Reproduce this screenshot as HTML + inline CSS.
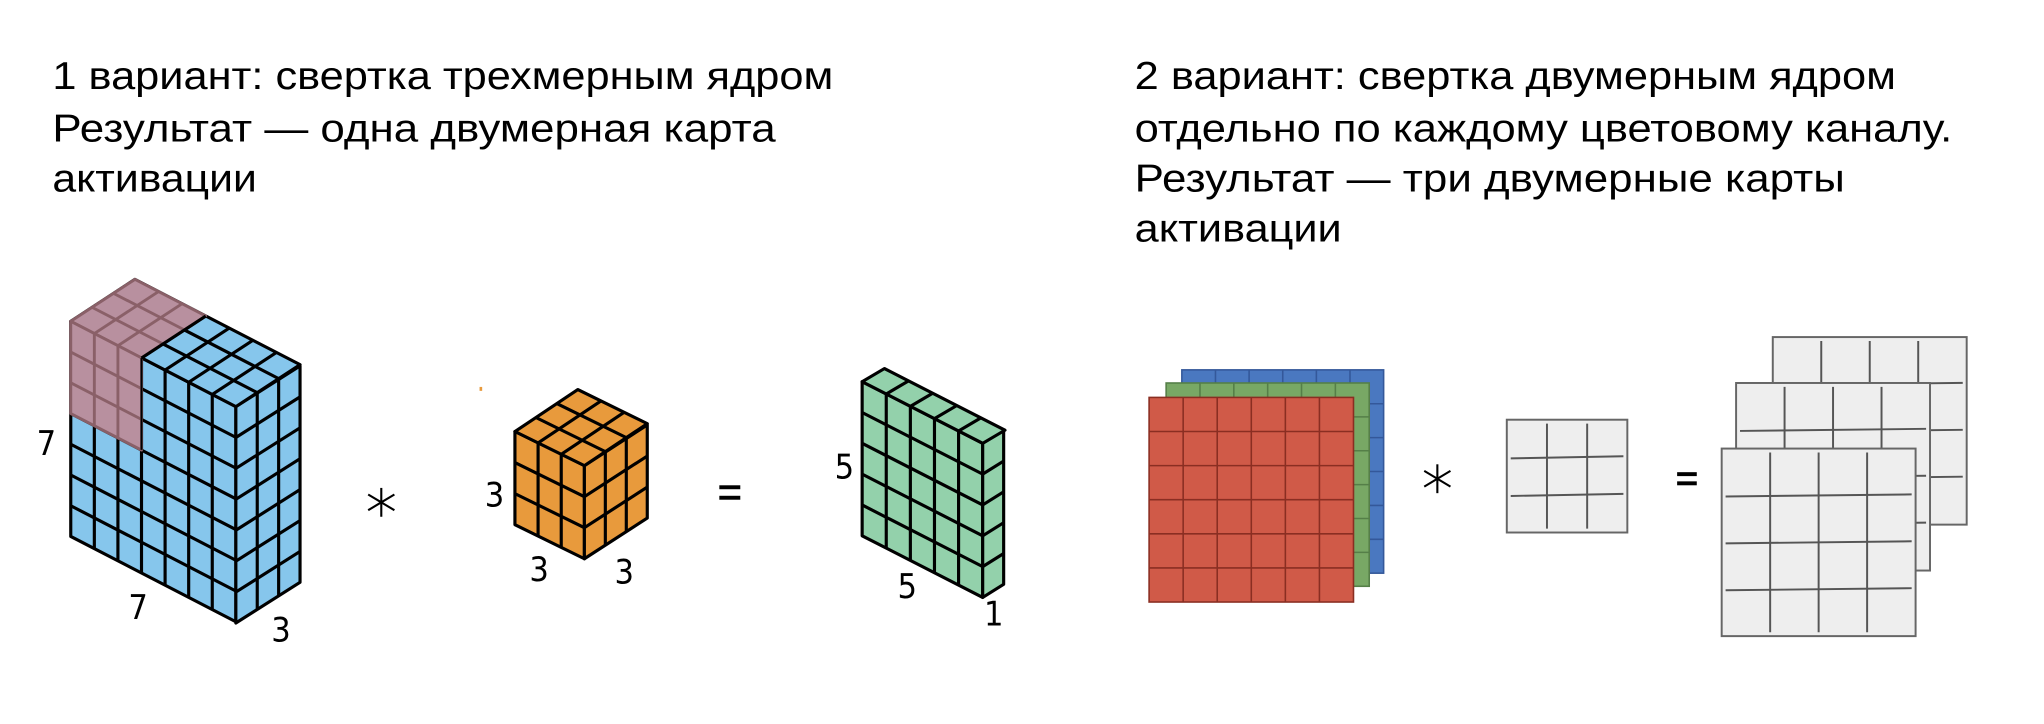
<!DOCTYPE html>
<html><head><meta charset="utf-8"><style>html,body{margin:0;padding:0;background:#fff;}svg{display:block}</style></head>
<body>
<svg id="s" xmlns="http://www.w3.org/2000/svg" width="2044" height="724" viewBox="0 0 1560 552" preserveAspectRatio="none">
<rect width="1560" height="552" fill="#fff"/>
<g font-family="Liberation Sans, Arial, sans-serif" font-size="30" fill="#000">
<text x="40" y="68" textLength="596" lengthAdjust="spacingAndGlyphs">1 вариант: свертка трехмерным ядром</text>
<text x="40" y="108" textLength="552" lengthAdjust="spacingAndGlyphs">Результат  — одна двумерная карта</text>
<text x="40" y="146" textLength="156" lengthAdjust="spacingAndGlyphs">активации</text>
<text x="866" y="68" textLength="581" lengthAdjust="spacingAndGlyphs">2 вариант: свертка двумерным ядром</text>
<text x="866" y="108" textLength="624" lengthAdjust="spacingAndGlyphs">отдельно по каждому цветовому каналу.</text>
<text x="866" y="146" textLength="542" lengthAdjust="spacingAndGlyphs">Результат  — три двумерные карты</text>
<text x="866" y="184" textLength="158" lengthAdjust="spacingAndGlyphs">активации</text>
</g>
<g id="g3d"></g>
<g font-family="DejaVu Sans Condensed, DejaVu Sans, sans-serif" font-size="26" fill="#000">
<text x="28" y="347">7</text>
<text x="98" y="472">7</text>
<text x="207" y="489">3</text>
<text x="370" y="386">3</text>
<text x="404" y="443">3</text>
<text x="469" y="445">3</text>
<text x="637" y="365">5</text>
<text x="685" y="456">5</text>
<text x="751" y="477">1</text>
</g>
<rect x="366" y="295" width="2" height="3" fill="#e89a3c"/>
<g stroke="#000" stroke-width="1.6">
<line x1="291" y1="372" x2="291" y2="394"/><line x1="281" y1="377" x2="301" y2="389"/><line x1="281" y1="389" x2="301" y2="377"/>
<line x1="1097" y1="354" x2="1097" y2="376"/><line x1="1087" y1="359" x2="1107" y2="371"/><line x1="1087" y1="371" x2="1107" y2="359"/>
</g>
<g fill="#000"><rect x="549" y="370" width="16" height="3"/><rect x="549" y="378" width="16" height="3"/>
<rect x="1280" y="360" width="15" height="3"/><rect x="1280" y="367" width="15" height="3"/></g>
<g id="g2d"></g>
</svg>
<script>
var NS="http://www.w3.org/2000/svg";
function el(p,n,a){var e=document.createElementNS(NS,n);for(var k in a)e.setAttribute(k,a[k]);p.appendChild(e);return e;}
var G=document.getElementById('g3d');
function face(o,u,v,i0,i1,j0,j1,fill,stroke,sw){
 function P(i,j){return [o[0]+u[0]*i+v[0]*j,o[1]+u[1]*i+v[1]*j];}
 var a=P(i0,j0),b=P(i1,j0),c=P(i1,j1),d=P(i0,j1);
 el(G,'polygon',{points:[a,b,c,d].map(function(p){return p.join(',')}).join(' '),fill:fill,stroke:stroke,'stroke-width':sw,'stroke-linejoin':'round'});
 for(var i=i0+1;i<i1;i++){var p=P(i,j0),q=P(i,j1);el(G,'line',{x1:p[0],y1:p[1],x2:q[0],y2:q[1],stroke:stroke,'stroke-width':sw});}
 for(var j=j0+1;j<j1;j++){var p=P(i0,j),q=P(i1,j);el(G,'line',{x1:p[0],y1:p[1],x2:q[0],y2:q[1],stroke:stroke,'stroke-width':sw});}
}
var B='#86c6ec',K='#000',PK='#b8909f',PS='#8a6068';
face([54,245],[18,9.29],[0,23.43],0,7,0,7,B,K,2.4);
face([180,310],[16.33,-10.33],[0,23.57],0,3,0,7,B,K,2.4);
face([54,245],[18,9.29],[16.33,-10.67],0,7,0,3,B,K,2.4);
face([54,245],[18,9.29],[16.33,-10.67],0,3,0,3,PK,PS,2.2);
face([54,245],[18,9.29],[0,23.43],0,3,0,3,PK,PS,2.2);
el(G,'line',{x1:108,y1:273,x2:108,y2:343,stroke:'#000','stroke-width':1.5});
el(G,'line',{x1:108,y1:273,x2:157,y2:241,stroke:'#000','stroke-width':2.4});
var O='#e89a3c';
face([393,329],[17.67,8.67],[0,23.67],0,3,0,3,O,K,2.4);
face([446,355],[16,-10.33],[0,23.67],0,3,0,3,O,K,2.4);
face([393,329],[17.67,8.67],[16,-10.67],0,3,0,3,O,K,2.4);
var GR='#93d1ab';
face([658,291],[18.4,9.4],[0,23.5],0,5,0,5,GR,K,2.4);
face([750,338],[16,-10],[0,23.5],0,1,0,5,GR,K,2.4);
face([658,291],[18.4,9.4],[17,-10],0,5,0,1,GR,K,2.4);
G=document.getElementById('g2d');
function grid(x0,y0,x1,y1,n,m,fill,stroke,sw,line){
 el(G,'rect',{x:x0,y:y0,width:x1-x0,height:y1-y0,fill:fill,stroke:stroke,'stroke-width':sw});
 for(var i=1;i<n;i++){var x=x0+(x1-x0)*i/n;el(G,'line',{x1:x,y1:y0+(line?3:0),x2:x,y2:y1-(line?3:0),stroke:line||stroke,'stroke-width':sw});}
 for(var j=1;j<m;j++){var y=y0+(y1-y0)*j/m;el(G,'line',{x1:x0+(line?3:0),y1:y+(line?0.8:0),x2:x1-(line?3:0),y2:y-(line?0.8:0),stroke:line||stroke,'stroke-width':sw});}
}
grid(902,282,1056,437,6,6,'#4a78c0','#34589a',1.2);
grid(890,292,1045,447,6,6,'#78a865','#557f48',1.2);
grid(877,303,1033,459,6,6,'#d05a48','#8a2e22',1.2);
grid(1150,320,1242,406,3,3,'#eeeeee','#666',1.5,'#555');
grid(1353,257,1501,400,4,4,'#eeeeee','#666',1.5,'#555');
grid(1325,292,1473,435,4,4,'#eeeeee','#666',1.5,'#555');
grid(1314,342,1462,485,4,4,'#eeeeee','#666',1.5,'#555');
</script>
</body></html>
